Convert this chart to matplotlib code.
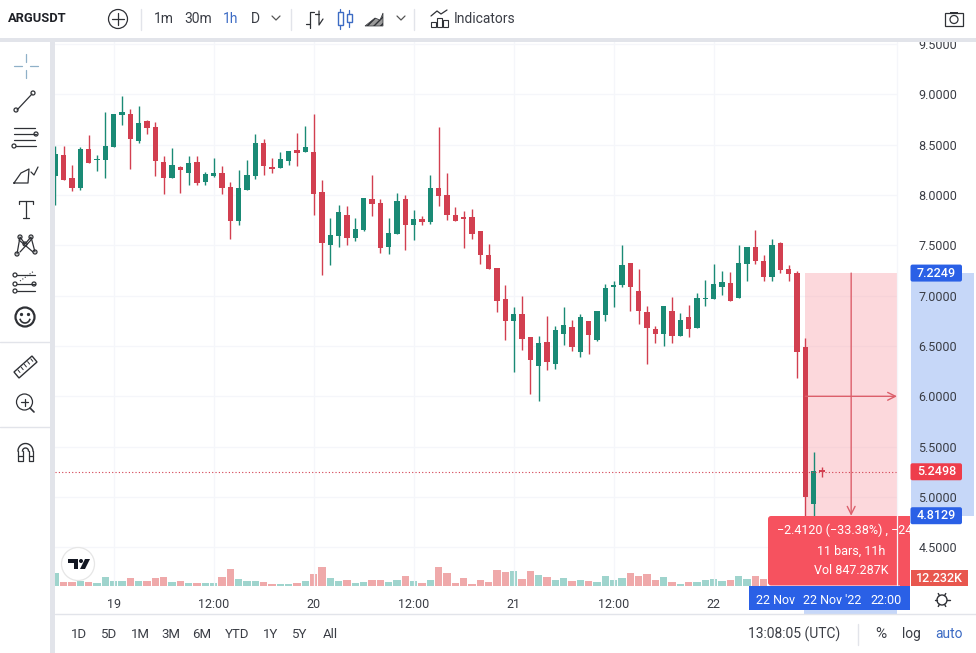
#!/usr/bin/env python3
# -*- coding: utf-8 -*-
import numpy as np
import matplotlib
matplotlib.use('Agg')
import matplotlib.pyplot as plt
from matplotlib.patches import Rectangle, Circle, Polygon, FancyBboxPatch
from matplotlib.transforms import blended_transform_factory

plt.rcParams['font.family'] = ['Roboto', 'DejaVu Sans']

# hours counted from 19 Nov 00:00
first_hour = -7

opens = [8.190, 8.399, 8.170, 8.071, 8.458, 8.352, 8.349, 8.478, 8.799, 8.806, 8.541, 8.736, 8.677, 8.329, 8.173, 8.283,
         8.223, 8.329, 8.134, 8.190, 8.220, 8.081, 7.743, 8.054, 8.190, 8.518, 8.279, 8.269, 8.339, 8.448, 8.428, 8.428,
         8.031, 7.507, 7.597, 7.802, 7.574, 7.653, 7.961, 7.922, 7.488, 7.614, 7.965, 7.703, 7.763, 7.733, 8.071, 8.001,
         7.802, 7.783, 7.783, 7.643, 7.405, 7.276, 6.968, 6.749, 6.818, 6.590, 6.302, 6.540, 6.321, 6.620, 6.689, 6.441,
         6.749, 6.560, 6.808, 7.090, 7.107, 7.325, 7.047, 6.838, 6.669, 6.619, 6.848, 6.600, 6.788, 6.679, 6.971, 6.967,
         7.087, 7.126, 6.977, 7.315, 7.484, 7.345, 7.186, 7.524, 7.266, 7.226, 6.490, 4.929, 5.270]
highs = [8.488, 8.488, 8.299, 8.478, 8.597, 8.399, 8.823, 8.806, 8.985, 8.856, 8.886, 8.746, 8.727, 8.389, 8.468, 8.289,
         8.389, 8.389, 8.230, 8.369, 8.289, 8.130, 8.253, 8.349, 8.607, 8.554, 8.369, 8.428, 8.438, 8.617, 8.687, 8.806,
         8.150, 7.772, 7.902, 7.892, 7.773, 7.971, 8.200, 7.961, 7.773, 8.024, 7.998, 7.852, 7.793, 8.200, 8.677, 8.220,
         7.882, 7.842, 7.862, 7.643, 7.514, 7.276, 7.107, 6.888, 6.997, 6.590, 6.600, 6.799, 6.699, 6.888, 6.759, 6.818,
         6.749, 6.848, 7.117, 7.146, 7.504, 7.325, 7.266, 6.898, 6.699, 6.898, 6.987, 6.828, 6.908, 7.027, 7.156, 7.312,
         7.246, 7.236, 7.504, 7.484, 7.653, 7.405, 7.564, 7.534, 7.305, 7.246, 6.580, 5.447, 5.300]
lows = [7.902, 8.150, 8.044, 8.054, 8.322, 8.243, 8.173, 8.478, 8.697, 8.259, 8.515, 8.607, 8.193, 8.014, 8.173, 8.021,
        8.100, 8.100, 8.100, 8.183, 8.014, 7.560, 7.703, 8.054, 8.160, 8.200, 8.223, 8.269, 8.299, 8.293, 8.428, 7.802,
        7.206, 7.305, 7.484, 7.504, 7.544, 7.647, 7.792, 7.421, 7.415, 7.614, 7.455, 7.554, 7.703, 7.716, 7.892, 7.753,
        7.743, 7.474, 7.564, 7.315, 7.266, 6.838, 6.560, 6.242, 6.461, 6.023, 5.954, 6.262, 6.272, 6.510, 6.447, 6.391,
        6.421, 6.550, 6.749, 6.888, 7.087, 6.848, 6.719, 6.322, 6.530, 6.500, 6.530, 6.600, 6.590, 6.679, 6.898, 6.967,
        7.007, 6.947, 6.977, 7.146, 7.315, 7.146, 7.146, 7.226, 7.146, 6.182, 4.770, 4.780, 5.200]
closes = [8.409, 8.153, 8.071, 8.458, 8.322, 8.362, 8.488, 8.806, 8.826, 8.558, 8.713, 8.667, 8.342, 8.173, 8.299, 8.249,
          8.319, 8.124, 8.210, 8.220, 8.074, 7.743, 8.071, 8.200, 8.518, 8.293, 8.259, 8.359, 8.438, 8.418, 8.478, 8.014,
          7.527, 7.603, 7.832, 7.577, 7.663, 7.971, 7.912, 7.474, 7.624, 7.942, 7.703, 7.763, 7.733, 8.071, 7.991, 7.802,
          7.743, 7.766, 7.614, 7.405, 7.266, 6.948, 6.749, 6.818, 6.570, 6.361, 6.530, 6.341, 6.659, 6.709, 6.490, 6.789,
          6.610, 6.848, 7.077, 7.107, 7.305, 7.087, 6.848, 6.679, 6.619, 6.898, 6.600, 6.759, 6.669, 6.977, 6.981, 7.116,
          7.136, 6.947, 7.325, 7.484, 7.345, 7.186, 7.504, 7.256, 7.216, 6.441, 4.995, 5.257, 5.250]
# volume in thousands, the last bars are hidden behind the measure box
volumes = [19.6, 5.8, 5.8, 8.0, 5.8, 3.7, 13.8, 7.4, 7.4, 12.2, 7.4, 7.4, 12.2, 13.8, 5.8, 7.4, 4.2, 4.2, 4.2, 4.2, 13.8,
           26.5, 10.6, 7.4, 7.4, 5.8, 2.1, 2.1, 2.1, 4.2, 7.4, 18.6, 29.7, 12.2, 7.4, 9.0, 4.2, 5.8, 9.0, 9.0, 5.8, 9.0,
           15.4, 7.4, 4.2, 9.0, 29.7, 20.1, 4.2, 12.2, 2.6, 9.0, 5.8, 24.9, 21.7, 23.3, 10.6, 23.3, 17.0, 13.8, 9.0, 11.7,
           7.4, 9.0, 7.4, 5.8, 15.4, 9.5, 12.2, 20.1, 15.4, 18.6, 9.0, 13.3, 5.8, 2.6, 5.8, 5.8, 9.0, 10.1, 7.4, 9.0, 15.4,
           10.6, 15.4, 10.6]

price_ticks = [4.5, 5.0, 5.5, 6.0, 6.5, 7.0, 7.5, 8.0, 8.5, 9.0, 9.5]
time_ticks = [0, 12, 24, 36, 48, 60, 72]
time_labels = ['19', '12:00', '20', '12:00', '21', '12:00', '22']
last_price = 5.2498
measure_top = 7.2249
measure_bottom = 4.8129
measure_start = 83

GREEN = '#1a8a75'
RED = '#d23f50'
GREEN_VOL = '#9fd4cd'
RED_VOL = '#efa9aa'
BLUE = '#2a60e6'
PALE_BLUE = '#c6d7f8'
PINK = '#f9a9b2'
LINE_RED = '#dc5f6b'
ICON = '#2f3136'
TEXT = '#3a3d45'
GRID = '#f5f6fa'
SEP = '#e2e4ea'

fig = plt.figure(figsize=(9.76, 6.53), dpi=100)
pos = [55 / 976, 1 - 585.7 / 653, 842 / 976, 545.7 / 653]

# volume pane
vol_ax = fig.add_axes(pos, zorder=0)
vol_ax.axis('off')
vol_ax.set_xlim(-7.04, 94.0)
vol_ax.set_ylim(0, 868)
hours = np.arange(first_hour, first_hour + len(opens))
vol_colors = [GREEN_VOL if closes[i] >= opens[i] else RED_VOL for i in range(len(volumes))]
vol_ax.bar(hours[:len(volumes)], volumes, width=0.85, color=vol_colors, linewidth=0)

# price pane
ax = fig.add_axes(pos, zorder=1)
ax.patch.set_visible(False)
ax.set_xlim(-7.04, 94.0)
ax.set_ylim(4.1173, 9.5417)
for s in ax.spines.values():
    s.set_visible(False)
ax.grid(True, color=GRID, linewidth=0.9)
ax.yaxis.tick_right()
ax.set_yticks(price_ticks)
ax.set_yticklabels(['%.4f' % p for p in price_ticks])
ax.set_xticks(time_ticks)
ax.set_xticklabels(time_labels)
ax.tick_params(axis='y', length=0, pad=15.5, labelsize=9, labelcolor=TEXT)
ax.tick_params(axis='x', length=0, pad=9, labelsize=9, labelcolor=TEXT)

colors = [GREEN if closes[i] >= opens[i] else RED for i in range(len(opens))]
ax.vlines(hours, lows, highs, colors=colors, linewidth=1.0, zorder=2)
bottoms = np.minimum(opens, closes)
heights = np.abs(np.array(closes) - np.array(opens))
ax.bar(hours, heights, width=0.62, bottom=bottoms, color=colors, linewidth=0, zorder=2.2)

ax.axhline(last_price, color=RED, linewidth=0.8, linestyle=(0, (1, 2)), zorder=2.5)

# measure tool, the candles stay on top of it
ax.add_patch(Rectangle((measure_start, measure_bottom), 94.0 - measure_start, measure_top - measure_bottom,
                       facecolor=PINK, alpha=0.45, linewidth=0, zorder=1.8))
ax.annotate('', xy=(88.5, measure_bottom), xytext=(88.5, measure_top), zorder=4,
            arrowprops=dict(arrowstyle='->', color=LINE_RED, lw=1, mutation_scale=14, shrinkA=0, shrinkB=0))
ax.annotate('', xy=(94.0, 6.0), xytext=(measure_start, 6.0), zorder=4,
            arrowprops=dict(arrowstyle='->', color=LINE_RED, lw=1, mutation_scale=14, shrinkA=0, shrinkB=0))

# band on the price scale, under the tick labels
trans = blended_transform_factory(ax.transAxes, ax.transData)
ax.add_patch(Rectangle((1 + 14 / 842, measure_bottom), 63 / 842, measure_top - measure_bottom, transform=trans,
                       facecolor=PALE_BLUE, linewidth=0, clip_on=False, zorder=1))

# everything around the chart, in pixels
ui = fig.add_axes([0, 0, 1, 1], zorder=5)
ui.set_xlim(0, 976)
ui.set_ylim(653, 0)
ui.axis('off')


def line(xs, ys, color=ICON, lw=0.9, **kw):
    ui.plot(xs, ys, color=color, linewidth=lw, solid_capstyle='round', **kw)


def circle(x, y, r, color=ICON, lw=0.9, fill='none'):
    ui.add_patch(Circle((x, y), r, facecolor=fill, edgecolor=color, linewidth=lw))


def box(x0, y0, x1, y1, color, **kw):
    ui.add_patch(Rectangle((x0, y0), x1 - x0, y1 - y0, facecolor=color, linewidth=0, **kw))


def label(x, y, s, color=TEXT, size=9, ha='center', **kw):
    return ui.text(x, y, s, color=color, fontsize=size, ha=ha, va='center', **kw)


def chevron(x, y):
    line([x - 4, x, x + 4], [y - 2, y + 2, y - 2], color='#555', lw=0.9)


# separators
box(0, 38, 976, 42, SEP)
box(50, 42, 54.5, 653, SEP)
line([55, 976], [614, 614], color=SEP, lw=1)
line([897, 897], [42, 585], color=GRID, lw=0.9)
for x in [141, 291, 414]:
    line([x, x], [9, 30], color=SEP, lw=1)
line([858, 858], [624, 645], color=SEP, lw=1)
line([0, 50], [342, 342], color=SEP, lw=1)
line([0, 50], [427, 427], color=SEP, lw=1)

# top toolbar
label(8, 19, 'ARGUSDT', color='#1e2026', size=9.3, ha='left', fontweight='bold')
circle(118, 19, 9.5)
line([112, 124], [19, 19])
line([118, 118], [13, 25])
for x, s, c in [(164, '1m', TEXT), (198, '30m', TEXT), (231, '1h', '#3c6bc4'), (255, 'D', TEXT)]:
    label(x, 19, s, color=c, size=10)
chevron(276, 18)
line([310, 310, 314], [28, 12, 12])
line([310, 306], [24, 24])
line([319, 319, 323], [11, 25, 19])
line([315, 319], [14, 14])
for x, y0, y1, t0, t1 in [(340, 12, 25, 9, 29), (349, 14, 22, 10, 27)]:
    ui.add_patch(Rectangle((x - 2.5, y0), 5, y1 - y0, facecolor='white', edgecolor='#3c6bc4', linewidth=1))
    line([x, x], [t0, y0], color='#3c6bc4')
    line([x, x], [y1, t1], color='#3c6bc4')
ui.add_patch(Polygon([(365, 26), (375, 18), (380, 20), (383, 13), (383, 26)], facecolor='#9a9a9a', edgecolor=ICON,
                     linewidth=0.5, hatch='/////'))
chevron(401, 18)
line([431, 437, 441, 447], [16, 11, 14, 10])
for x0, y0 in [(431, 22), (437, 18), (443, 20)]:
    ui.add_patch(Rectangle((x0, y0), 5, 27 - y0, facecolor='white', edgecolor=ICON, linewidth=0.8))
label(454, 19, 'Indicators', size=10, ha='left')
ui.add_patch(Rectangle((945, 13), 18, 13, facecolor='white', edgecolor=ICON, linewidth=0.9))
box(950, 11.5, 958, 13.5, ICON)
circle(954, 19.5, 4)

# left tools
CROSS = '#8fb0c8'
line([14, 22], [66, 66], color=CROSS)
line([30, 38], [66, 66], color=CROSS)
line([26, 26], [54, 62], color=CROSS)
line([26, 26], [70, 78], color=CROSS)
line([17, 32], [110, 94])
circle(16, 110, 2)
circle(33, 93, 2)
line([14, 35], [128, 128])
line([14, 36], [134, 134])
line([14, 35], [140, 140])
line([16, 36], [146, 146])
circle(36, 134, 2)
circle(14, 146, 2)
ui.plot([14, 21, 29, 28, 14], [183, 173, 169, 183, 183], color=ICON, lw=0.9)
line([31, 34, 38], [172, 175, 167])
# T tool
line([19, 19, 33, 33], [204, 201, 201, 204], lw=0.9)
line([26, 26], [201, 218], lw=0.9)
line([23, 29], [218, 218], lw=0.9)
line([17, 20, 25, 31, 35], [254, 237, 244, 237, 252])
line([20, 31], [252, 240])
line([19, 33], [240, 252])
for x, y in [(17, 254), (20, 237), (25, 244), (31, 237), (35, 252)]:
    circle(x, y, 2)
for y in [275, 284, 291]:
    line([17, 35], [y, y])
    circle(15, y, 2)
circle(34, 284, 2)
line([20, 34], [281, 271], lw=0.8, linestyle=':')
circle(25, 317, 9.5, lw=1.6)
circle(21.5, 314.5, 1, fill=ICON)
circle(28.5, 314.5, 1, fill=ICON)
ui.plot(25 + 5 * np.cos(np.linspace(0.3, 2.84, 12)), 318 + 5 * np.sin(np.linspace(0.3, 2.84, 12)), color=ICON, lw=1.2)
ui.add_patch(Polygon([(14, 372), (32, 356), (37, 362), (19, 378)], facecolor='white', edgecolor=ICON, linewidth=1))
for i in range(5):
    line([18 + 3.2 * i, 20 + 3.2 * i], [370 - 2.8 * i, 372.5 - 2.8 * i], lw=0.7)
circle(24.5, 402, 8)
line([21, 28], [402, 402])
line([24.5, 24.5], [398.5, 405.5])
line([30, 34], [408, 412], lw=1.2)
ui.plot(25.5 + 7.5 * np.cos(np.linspace(np.pi, 2 * np.pi, 20)), 451 + 7.5 * np.sin(np.linspace(np.pi, 2 * np.pi, 20)),
        color=ICON, lw=1)
ui.plot(25.5 + 3 * np.cos(np.linspace(np.pi, 2 * np.pi, 20)), 451 + 3 * np.sin(np.linspace(np.pi, 2 * np.pi, 20)),
        color=ICON, lw=1)
for x0, x1 in [(18, 22.5), (28.5, 33)]:
    line([x0, x0, x1, x1], [451, 461, 461, 451])
    line([x0, x1], [456, 456])

# logo
circle(78, 564, 16.5, color='#e6e6e6', lw=0.9, fill='white')
ui.add_patch(Polygon([(68, 559), (78, 559), (78, 569), (74, 569), (74, 563), (68, 563)], facecolor='#131722', linewidth=0))
circle(81, 561, 2, color='#131722', fill='#131722', lw=0)
ui.add_patch(Polygon([(85, 559), (90, 559), (85, 569), (80, 569)], facecolor='#131722', linewidth=0))

# bottom bar
for x, s in [(79, '1D'), (109, '5D'), (140, '1M'), (171, '3M'), (202, '6M'), (237, 'YTD'), (271, '1Y'), (300, '5Y'), (330, 'All')]:
    label(x, 634, s, size=9.5)
label(794, 634, '13:08:05 (UTC)', size=10)
label(881, 634, '%', size=11)
label(911, 634, 'log', size=10)
label(949, 634, 'auto', color='#3c6bc4', size=10)


# price labels, the y values come from the data axes
def price_y(p):
    return ui.transData.inverted().transform(ax.transData.transform((0, p)))[1]


for p, c, s in [(measure_top, BLUE, '7.2249'), (last_price, '#ee3d4b', '5.2498'), (measure_bottom, BLUE, '4.8129')]:
    y = price_y(p)
    ui.add_patch(FancyBboxPatch((911.5, y - 7.5), 49.5, 15, boxstyle='round,pad=1,rounding_size=2', facecolor=c, linewidth=0))
    label(936.5, y, s, color='white', size=9, fontweight='medium')

box(804, 586, 897, 613.5, PALE_BLUE)
tip = FancyBboxPatch((770, 518), 138, 65.5, boxstyle='round,pad=2,rounding_size=3', facecolor='#f6525f', linewidth=0)
ui.add_patch(tip)
box(900, 516, 910, 585.5, '#f6525f')
clip = Rectangle((768, 516), 142, 69.5, transform=ui.transData)
t = label(777, 530, '\u22122.4120 (\u221233.38%) , \u2212241.20', color='white', size=9, ha='left')
t.set_clip_path(clip)
t.set_clip_on(True)
label(851, 551, '11 bars, 11h', color='white', size=9)
label(851, 571, 'Vol 847.287K', color='white', size=9)
box(910.5, 570, 968, 586, '#e8574e')
label(939, 578, '12.232K', color='white', size=9, fontweight='medium')
box(749, 586, 910, 609.5, BLUE)
label(775, 600, '22 Nov', color='white', size=9)
label(832, 600, "22 Nov '22", color='white', size=9)
label(886, 600, '22:00', color='white', size=9)

# settings icon on the time scale
circle(942, 600, 5, lw=1)
for a in np.arange(0, 2 * np.pi, np.pi / 3):
    line([942 + 5 * np.cos(a), 942 + 7.5 * np.cos(a)], [600 + 5 * np.sin(a), 600 + 7.5 * np.sin(a)], lw=1)

fig.savefig('out.png', dpi=100)
